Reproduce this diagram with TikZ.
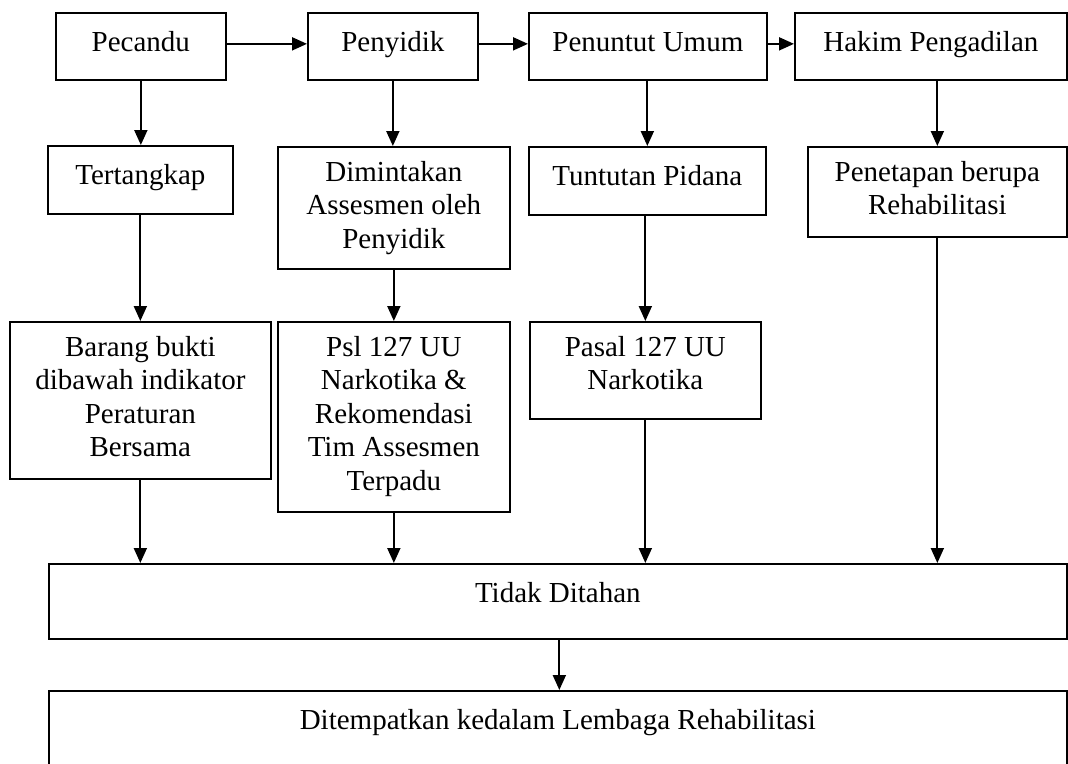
\documentclass[tikz,border=0pt]{standalone}
\usepackage{fontspec}
\setmainfont{Liberation Serif}
\usetikzlibrary{arrows.meta}
\begin{document}
\begin{tikzpicture}[x=1pt,y=-1pt,
  boxnode/.style={draw,line width=1.7pt,inner sep=0pt,anchor=north west},
  txt/.style={font=\fontsize{29}{33.5}\selectfont,align=center,inner sep=0pt,anchor=north,
    execute at begin node={\rule{0pt}{24pt}}},
  arr/.style={line width=1.9pt,-{Triangle[length=15pt,width=13pt]}}]
\useasboundingbox (0,0) rectangle (1068,763);
% boxes
\node[boxnode,minimum width=170pt,minimum height=67pt] (pec) at (55,12) {};
\node[boxnode,minimum width=170pt,minimum height=67pt] (pny) at (307,12) {};
\node[boxnode,minimum width=238pt,minimum height=67pt] (pu) at (528,12) {};
\node[boxnode,minimum width=272pt,minimum height=67pt] (hak) at (794,12) {};
\node[boxnode,minimum width=185pt,minimum height=68pt] (ter) at (47,145) {};
\node[boxnode,minimum width=232pt,minimum height=122pt] (dim) at (277,146) {};
\node[boxnode,minimum width=237pt,minimum height=68pt] (tun) at (528,146) {};
\node[boxnode,minimum width=259pt,minimum height=90pt] (pen) at (807,146) {};
\node[boxnode,minimum width=261pt,minimum height=157pt] (bar) at (9,321) {};
\node[boxnode,minimum width=232pt,minimum height=190pt] (psl) at (277,321) {};
\node[boxnode,minimum width=231pt,minimum height=97pt] (pas) at (529,321) {};
\node[boxnode,minimum width=1018pt,minimum height=75pt] (tid) at (48,563) {};
\node[boxnode,minimum width=1018pt,minimum height=110pt] (dit) at (48,690) {};
% texts
\node[txt] (pec-t) at ([yshift=-15pt]pec.north) {Pecandu};
\node[txt] (pny-t) at ([yshift=-15pt]pny.north) {Penyidik};
\node[txt] (pu-t) at ([yshift=-15pt]pu.north) {Penuntut Umum};
\node[txt] (hak-t) at ([yshift=-15pt]hak.north) {Hakim Pengadilan};
\node[txt] (ter-t) at ([yshift=-15pt]ter.north) {Tertangkap};
\node[txt] (dim-t) at ([yshift=-15pt]dim.north) {Dimintakan\\Assesmen oleh\\Penyidik};
\node[txt] (tun-t) at ([yshift=-15pt]tun.north) {Tuntutan Pidana};
\node[txt] (pen-t) at ([yshift=-15pt]pen.north) {Penetapan berupa\\Rehabilitasi};
\node[txt] (bar-t) at ([yshift=-15pt]bar.north) {Barang bukti\\dibawah indikator\\Peraturan\\Bersama};
\node[txt] (psl-t) at ([yshift=-15pt]psl.north) {Psl 127 UU\\Narkotika \&\\Rekomendasi\\Tim Assesmen\\Terpadu};
\node[txt] (pas-t) at ([yshift=-15pt]pas.north) {Pasal 127 UU\\Narkotika};
\node[txt] (tid-t) at ([yshift=-15pt]tid.north) {Tidak Ditahan};
\node[txt] (dit-t) at ([yshift=-15pt]dit.north) {Ditempatkan kedalam Lembaga Rehabilitasi};
% horizontal connectors
\draw[arr] ([yshift=2.5pt]pec.east) -- ([yshift=2.5pt]pny.west);
\draw[arr] ([yshift=2.5pt]pny.east) -- ([yshift=2.5pt]pu.west);
\draw[arr] ([yshift=2.5pt]pu.east) -- ([yshift=2.5pt]hak.west);
% vertical connectors
\draw[arr] (pec.south) -- (pec.south |- ter.north);
\draw[arr] (pny.south) -- (pny.south |- dim.north);
\draw[arr] (tun.north |- pu.south) -- (tun.north);
\draw[arr] (pen.north |- hak.south) -- (pen.north);
\draw[arr] (ter.south) -- (ter.south |- bar.north);
\draw[arr] (dim.south) -- (dim.south |- psl.north);
\draw[arr] (pas.north |- tun.south) -- (pas.north);
\draw[arr] (bar.south) -- (bar.south |- tid.north);
\draw[arr] (psl.south) -- (psl.south |- tid.north);
\draw[arr] (pas.south) -- (pas.south |- tid.north);
\draw[arr] (pen.south) -- (pen.south |- tid.north);
\draw[arr] ([xshift=1.5pt]tid.south) -- ([xshift=1.5pt]tid.south |- dit.north);
\end{tikzpicture}
\end{document}
